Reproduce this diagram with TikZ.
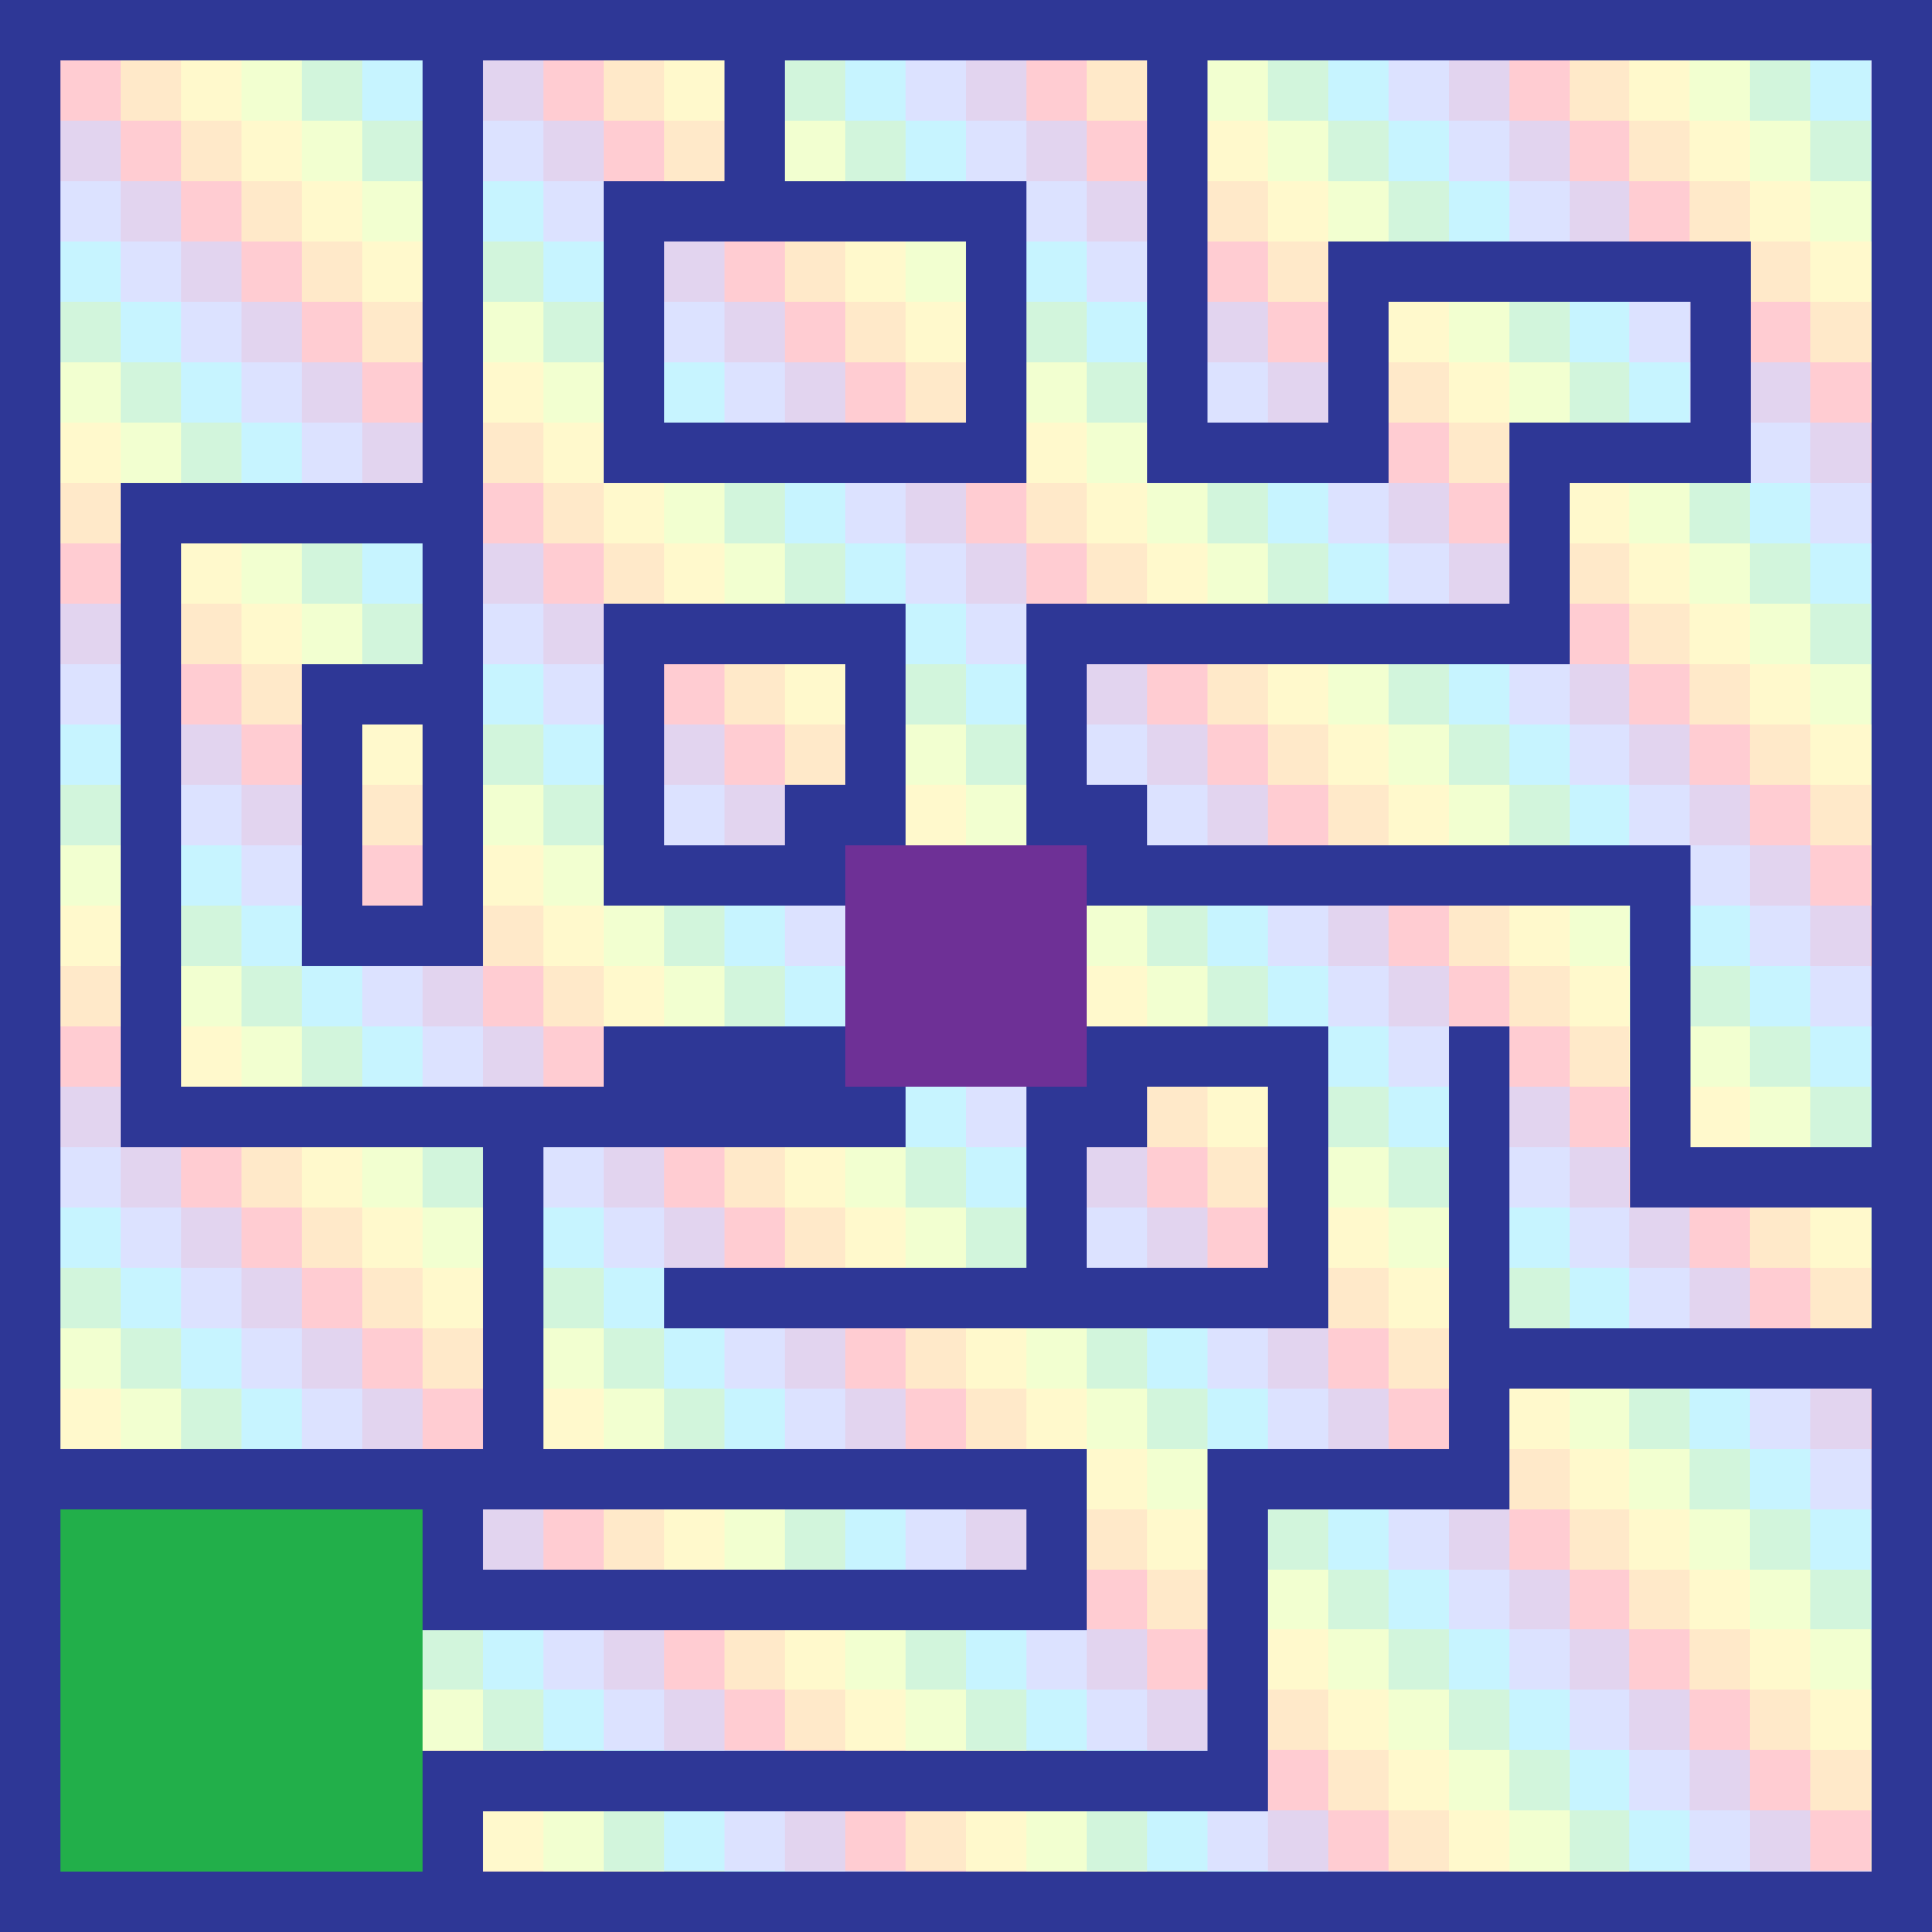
\documentclass[tikz,border=0pt]{standalone}
\usepackage{tikz}
\definecolor{wallblue}{RGB}{46,55,150}
\definecolor{goalpurple}{RGB}{110,48,150}
\definecolor{startgreen}{RGB}{34,175,74}
\definecolor{cell0}{RGB}{255,204,210}
\definecolor{cell1}{RGB}{255,233,201}
\definecolor{cell2}{RGB}{255,249,204}
\definecolor{cell3}{RGB}{242,255,208}
\definecolor{cell4}{RGB}{210,245,220}
\definecolor{cell5}{RGB}{199,244,255}
\definecolor{cell6}{RGB}{220,226,255}
\definecolor{cell7}{RGB}{226,212,239}

\begin{document}
\begin{tikzpicture}[
    x=1cm, y=-1cm,
    wall/.style={fill=wallblue},
    goal/.style={fill=goalpurple},
    start/.style={fill=startgreen}
]

% Pastel floor, diagonal colour bands
\foreach \c in {0,...,31}{
    \foreach \r in {0,...,31}{
        \pgfmathtruncatemacro\k{mod(\c-\r+32,8)}
        \fill[cell\k] (\c-0.005,\r-0.005) rectangle (\c+1.005,\r+1.005);
    }
}

% Maze walls (x1/y1/x2/y2 in cells, end exclusive)
\foreach \xa/\ya/\xb/\yb in {
    0/0/32/1, 0/31/32/32, 0/0/1/32, 31/0/32/32,
    7/1/8/16, 12/1/13/3, 19/1/20/8,
    10/3/17/4, 10/4/11/7, 16/4/17/7, 10/7/17/8,
    22/4/29/5, 22/5/23/8, 19/7/23/8, 28/5/29/8, 25/7/29/8,
    25/8/26/10, 17/10/26/11,
    2/8/8/9, 2/9/3/19, 2/18/15/19,
    10/10/15/11, 10/11/11/15, 14/11/15/14, 13/13/14/14, 10/14/14/15,
    17/11/18/14, 18/13/19/14, 18/14/28/15, 27/15/28/20, 27/19/32/20,
    5/11/8/12, 5/12/6/16, 5/15/8/16,
    10/17/14/18,
    18/17/22/18, 21/18/22/22, 17/18/19/19, 17/19/18/21,
    11/21/22/22,
    8/19/9/24, 0/24/18/25,
    24/17/25/24, 24/22/32/23, 20/24/25/25,
    20/25/21/30, 7/29/21/30, 7/30/8/31,
    7/25/8/27, 7/26/18/27, 17/25/18/27}{
    \fill[wall] (\xa,\ya) rectangle (\xb,\yb);
}

% Goal in the centre
\fill[goal] (14,14) rectangle (18,18);

% Start block
\fill[start] (1,25) rectangle (7,31);

\end{tikzpicture}
\end{document}
